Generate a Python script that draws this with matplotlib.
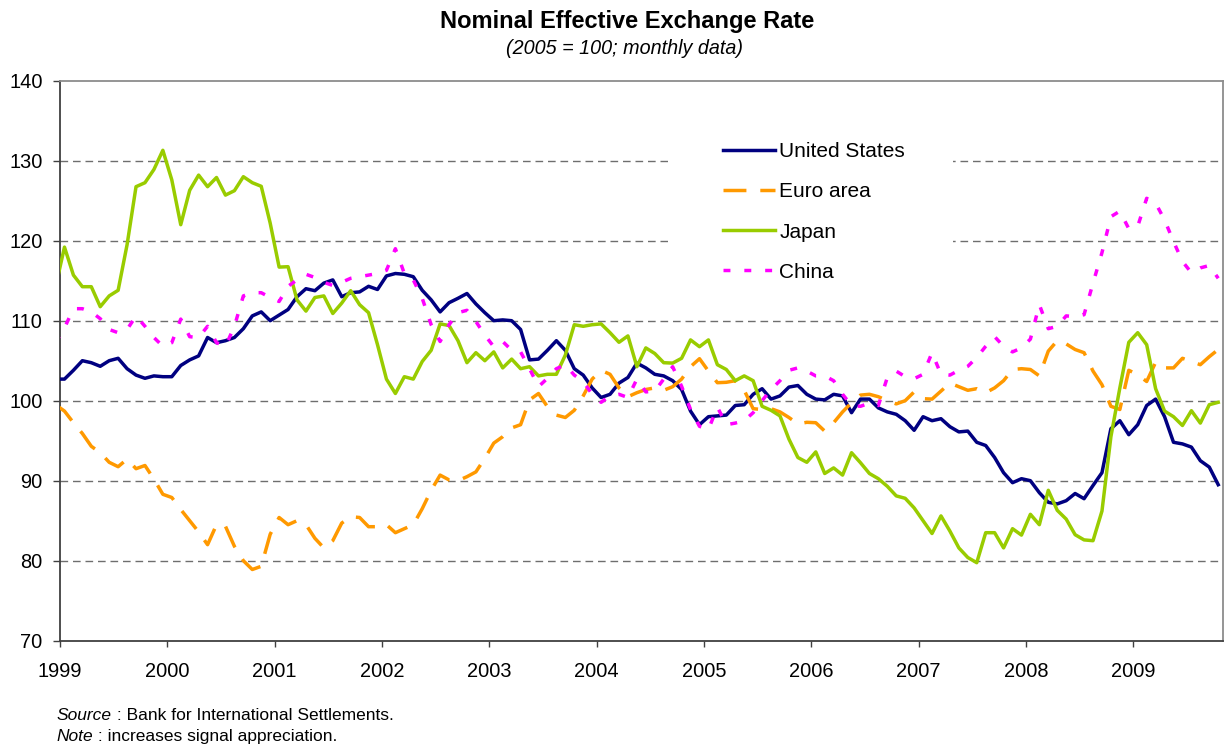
import matplotlib
matplotlib.use('Agg')
import matplotlib.pyplot as plt
import numpy as np
from matplotlib.patches import Rectangle

plt.rcParams['font.family'] = ['Liberation Sans', 'DejaVu Sans']

# Monthly data, Dec 1998 .. Oct 2009 (2005 = 100)
united_states = [
    102.7, 102.7, 103.8, 105.0, 104.75, 104.3, 105.0, 105.3, 104.0, 103.2, 102.8, 103.1, 103.0,
    103.0, 104.4, 105.1, 105.6, 107.9, 107.25, 107.5, 107.9, 109.0, 110.6, 111.1, 110.0,
    110.7, 111.4, 113.0, 114.0, 113.75, 114.7, 115.1, 113.0, 113.5, 113.6, 114.3, 113.9,
    115.6, 115.9, 115.8, 115.5, 113.8, 112.6, 111.1, 112.25, 112.8, 113.4, 112.1, 111.0,
    110.0, 110.1, 110.0, 108.9, 105.1, 105.2, 106.3, 107.5, 106.3, 104.0, 103.2, 101.6,
    100.4, 100.8, 102.2, 102.9, 104.7, 104.1, 103.3, 103.1, 102.5, 101.4, 98.7, 97.0,
    98.0, 98.1, 98.2, 99.4, 99.5, 100.8, 101.5, 100.2, 100.6, 101.7, 101.9, 100.8,
    100.2, 100.1, 100.8, 100.6, 98.5, 100.2, 100.2, 99.1, 98.6, 98.3, 97.5, 96.3,
    98.0, 97.5, 97.75, 96.75, 96.1, 96.2, 94.8, 94.4, 92.9, 91.0, 89.75, 90.25,
    90.0, 88.5, 87.3, 87.1, 87.5, 88.4, 87.75, 89.4, 91.0, 96.5, 97.5, 95.75,
    97.0, 99.4, 100.2, 98.0, 94.8, 94.6, 94.2, 92.5, 91.7, 89.5,
]
euro_area = [
    99.5, 98.7, 97.25, 95.9, 94.3, 93.5, 92.3, 91.75, 92.7, 91.5, 91.9, 90.2, 88.3,
    87.9, 86.4, 85.0, 83.6, 82.0, 84.5, 84.3, 81.8, 80.0, 78.9, 79.3, 83.3,
    85.4, 84.5, 85.0, 84.5, 82.8, 81.6, 82.5, 84.7, 85.5, 85.4, 84.25, 84.25,
    84.5, 83.5, 84.0, 84.5, 86.5, 88.8, 90.7, 90.1, 90.0, 90.5, 91.1, 92.8,
    94.7, 95.5, 96.6, 97.0, 100.1, 100.9, 99.25, 98.2, 97.9, 98.8, 100.6, 102.7,
    103.8, 103.3, 101.6, 100.5, 101.0, 101.4, 101.6, 101.3, 101.75, 102.7, 104.25, 105.25,
    103.7, 102.25, 102.3, 102.5, 101.3, 99.0, 98.9, 99.0, 98.6, 97.9, 97.1, 97.3,
    97.25, 96.2, 97.25, 98.6, 99.75, 100.7, 100.8, 100.5, 100.0, 99.6, 100.0, 101.1,
    100.25, 100.2, 101.2, 102.2, 101.75, 101.3, 101.5, 101.0, 101.6, 102.5, 103.9, 104.0,
    103.9, 103.1, 106.2, 107.5, 107.1, 106.4, 106.0, 103.7, 102.0, 99.3, 98.9, 103.8,
    103.25, 102.4, 104.8, 104.1, 104.1, 105.3, 104.9, 104.5, 105.5, 106.4,
]
japan = [
    114.2, 119.2, 115.7, 114.25, 114.25, 111.75, 113.1, 113.8, 119.5, 126.75, 127.25, 128.9, 131.3,
    127.6, 122.0, 126.3, 128.2, 126.75, 127.9, 125.7, 126.25, 128.0, 127.25, 126.8, 122.2,
    116.7, 116.75, 112.6, 111.2, 112.9, 113.1, 110.9, 112.2, 113.75, 112.0, 111.0, 107.0,
    102.7, 100.9, 103.0, 102.7, 104.9, 106.3, 109.6, 109.4, 107.5, 104.75, 106.0, 105.0,
    106.1, 104.1, 105.2, 104.0, 104.25, 103.1, 103.3, 103.3, 105.7, 109.5, 109.3, 109.5,
    109.6, 108.5, 107.3, 108.1, 104.25, 106.6, 105.9, 104.75, 104.7, 105.3, 107.6, 106.75,
    107.6, 104.5, 103.9, 102.5, 103.1, 102.5, 99.3, 98.8, 98.1, 95.2, 92.9, 92.3,
    93.6, 90.9, 91.6, 90.7, 93.5, 92.25, 90.9, 90.25, 89.3, 88.1, 87.8, 86.6,
    85.0, 83.4, 85.6, 83.7, 81.6, 80.4, 79.75, 83.5, 83.5, 81.6, 84.0, 83.2,
    85.8, 84.5, 88.8, 86.3, 85.2, 83.25, 82.6, 82.5, 86.2, 95.5, 101.6, 107.3,
    108.5, 107.0, 101.5, 98.7, 98.0, 96.9, 98.75, 97.2, 99.5, 99.8,
]
china = [
    107.3, 109.1, 111.5, 111.5, 111.1, 110.25, 108.9, 108.5, 108.9, 110.6, 109.3, 107.9, 106.8,
    107.25, 110.2, 108.0, 107.9, 109.3, 107.25, 106.8, 109.3, 113.1, 113.5, 113.5, 112.9,
    112.4, 114.3, 115.1, 115.8, 115.4, 114.8, 114.4, 114.8, 115.3, 115.5, 115.7, 115.9,
    116.3, 119.0, 115.9, 115.1, 112.8, 109.5, 107.4, 109.5, 111.0, 111.3, 109.9, 108.2,
    106.75, 107.4, 106.3, 106.1, 104.0, 101.75, 102.8, 104.0, 104.5, 103.2, 102.4, 100.8,
    99.8, 100.6, 100.8, 100.4, 102.7, 101.1, 101.2, 102.7, 104.25, 101.8, 98.9, 96.8,
    96.4, 99.2, 97.0, 97.2, 97.5, 98.5, 100.0, 101.4, 102.5, 103.8, 104.1, 103.7,
    103.1, 103.1, 102.5, 100.8, 99.4, 99.3, 99.7, 99.4, 102.9, 103.7, 103.0, 102.75,
    103.3, 106.0, 103.3, 103.2, 103.8, 104.3, 105.4, 106.8, 108.0, 106.8, 106.1, 106.6,
    107.7, 112.0, 109.0, 109.3, 110.6, 110.5, 110.75, 114.7, 118.5, 123.0, 123.7, 121.5,
    121.8, 125.3, 124.7, 122.6, 119.9, 117.4, 116.0, 116.6, 116.9, 115.3,
]
series_names = ['United States', 'Euro area', 'Japan', 'China']
year_labels = ['1999', '2000', '2001', '2002', '2003', '2004', '2005',
               '2006', '2007', '2008', '2009']
y_ticks = [70, 80, 90, 100, 110, 120, 130, 140]

# months since Jan 1999 (first value = Dec 1998), plotted mid-month
months = np.arange(len(united_states)) - 1 + 0.5

W, H = 1224, 744
fig = plt.figure(figsize=(W / 100, H / 100), dpi=100)
L, R, T, B = 60, 1222.7, 80.7, 640.7
ax = fig.add_axes([L / W, (H - B) / H, (R - L) / W, (B - T) / H])
ax.set_xlim(0, 130)
ax.set_ylim(70, 140)

for v in y_ticks[1:-1]:
    ax.axhline(v, color='#6e6e6e', lw=1.0, ls=(0, (5.5, 3.5)), zorder=0.5)

# white area behind the legend (breaks the gridlines)
ax.add_patch(Rectangle(((668 - L) / (R - L), (B - 292) / (B - T)),
                       (953 - 668) / (R - L), (292 - 128) / (B - T),
                       transform=ax.transAxes, facecolor='white',
                       edgecolor='none', zorder=1))

lw = 2.5
ax.plot(months, united_states, color='#000080', lw=lw, label=series_names[0],
        solid_joinstyle='round', zorder=3)
ax.plot(months, euro_area, color='#FF9900', lw=lw, ls=(0, (6.6, 4.0)),
        label=series_names[1], dash_capstyle='butt', zorder=3)
ax.plot(months, japan, color='#99CC00', lw=lw, label=series_names[2],
        solid_joinstyle='round', zorder=3)
ax.plot(months, china, color='#FF00FF', lw=lw, ls=(0, (2.0, 4.0)),
        label=series_names[3], dash_capstyle='butt', zorder=3)

ax.set_yticks(y_ticks)
ax.set_yticklabels([str(v) for v in y_ticks])
ax.set_xticks(np.arange(len(year_labels)) * 12)
ax.set_xticklabels(year_labels)
ax.tick_params(axis='y', direction='out', length=5, width=1, pad=7.5,
               labelsize=14.4, color='#404040')
ax.tick_params(axis='x', direction='out', length=4.5, width=1, pad=11,
               labelsize=14.4, color='#404040')

for s in ['left', 'bottom']:
    ax.spines[s].set_color('#404040')
    ax.spines[s].set_linewidth(1.3)
for s in ['top', 'right']:
    ax.spines[s].set_color('#8c8c8c')
    ax.spines[s].set_linewidth(1.3)

leg = ax.legend(loc='upper left', bbox_to_anchor=(723 / W, 1 - 142 / H),
                bbox_transform=fig.transFigure, frameon=False, fontsize=15,
                handlelength=2.5, handletextpad=0.2, labelspacing=1.02,
                borderpad=0, borderaxespad=0)
leg.set_zorder(5)

fig.text(626.7 / W, 1 - 21.7 / H, 'Nominal Effective Exchange Rate',
         ha='center', va='center', fontsize=17, fontweight='bold')
fig.text(625 / W, 1 - 48 / H, '(2005 = 100; monthly data)',
         ha='center', va='center', fontsize=14.2, style='italic')

t1 = fig.text(56.7 / W, 1 - 715.5 / H, 'Source', fontsize=12.5,
              style='italic', va='center', ha='left')
ax.annotate(' : Bank for International Settlements.', xy=(1, 0),
            xycoords=t1, va='bottom', ha='left', fontsize=12.5,
            annotation_clip=False)
t2 = fig.text(56.7 / W, 1 - 736.5 / H, 'Note', fontsize=12.5,
              style='italic', va='center', ha='left')
ax.annotate(' : increases signal appreciation.', xy=(1, 0),
            xycoords=t2, va='bottom', ha='left', fontsize=12.5,
            annotation_clip=False)

fig.savefig('out.png', dpi=100)
